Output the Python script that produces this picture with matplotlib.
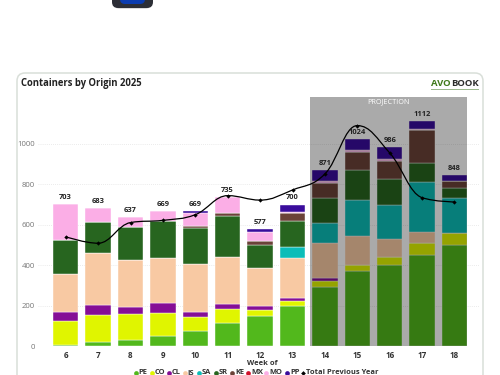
import matplotlib
matplotlib.use("Agg")
import matplotlib.pyplot as plt
from matplotlib.patches import FancyBboxPatch, Rectangle, PathPatch
from matplotlib.path import Path

plt.rcParams['font.family'] = ['Open Sans', 'DejaVu Sans']

weeks = [6, 7, 8, 9, 10, 11, 12, 13, 14, 15, 16, 17, 18]
totals = [703, 683, 637, 669, 669, 735, 577, 700, 871, 1024, 986, 1112, 848]
PE = [7, 23, 33, 49, 77, 115, 150, 199, 295, 370, 400, 449, 499]
CO = [118, 130, 128, 116, 66, 71, 29, 25, 28, 30, 41, 61, 59]
CL = [46, 49, 35, 51, 27, 21, 20, 16, 13, 0, 0, 0, 0]
JS = [188, 257, 230, 220, 238, 234, 186, 198, 173, 145, 91, 56, 0]
SA = [0, 0, 0, 0, 0, 0, 0, 51, 98, 179, 164, 244, 176]
SR = [164, 157, 162, 183, 178, 204, 115, 132, 124, 147, 130, 94, 49]
KE = [0, 0, 0, 0, 8, 12, 20, 36, 77, 89, 91, 164, 32]
MX = [0, 0, 0, 0, 0, 0, 0, 0, 0, 0, 0, 0, 0]
MO = [180, 67, 49, 50, 66, 78, 46, 8, 10, 8, 8, 5, 0]
PP = [0, 0, 0, 0, 9, 0, 11, 35, 53, 56, 61, 39, 33]
prev_year = [541, 509, 611, 622, 650, 744, 722, 772, 851, 1090, 955, 734, 713]

series_names = ["PE", "CO", "CL", "JS", "SA", "SR", "KE", "MX", "MO", "PP"]
series_vals = [PE, CO, CL, JS, SA, SR, KE, MX, MO, PP]
series_colors = ["#52b81c", "#e0f500", "#850e96", "#f8c9a3", "#0bbdb8", "#27651f",
                 "#6b4238", "#d0112b", "#fbaee6", "#3a0c9c"]
legend_x = [135.7, 151.7, 169, 185, 199, 216, 232, 248, 266, 287]
W, H = 500, 375

fig = plt.figure(figsize=(5, 3.75), dpi=100, facecolor="white")

# pixel-space layer for the page furniture
bg = fig.add_axes([0, 0, 1, 1], zorder=0)
bg.set_xlim(0, W)
bg.set_ylim(H, 0)
bg.axis("off")

# icon at the top of the page
bg.add_patch(FancyBboxPatch((114, -14), 37, 23, boxstyle="round,pad=0,rounding_size=6",
                            fc="#c4c4c4", ec="none", alpha=.6))
bg.add_patch(FancyBboxPatch((112, -14), 41, 22, boxstyle="round,pad=0,rounding_size=6",
                            fc="#2c2e36", ec="none"))
bg.add_patch(FancyBboxPatch((120, -14), 25, 18, boxstyle="round,pad=0,rounding_size=5",
                            fc="#0b3cb0", ec="none"))

# card
bg.add_patch(FancyBboxPatch((17, 73), 466, 330, boxstyle="round,pad=0,rounding_size=8",
                            fc="white", ec="#d9dfd9", lw=1.1))
bg.text(21, 83.5, "Containers by Origin 2025", fontsize=6.85, fontweight="bold",
        color="#222222", va="center", ha="left")

# logo
bg.text(431, 83, "AVO", fontsize=6.8, fontweight="bold", color="#3f7a1a", va="center", ha="left")
bg.text(451.5, 83, "BOOK", fontsize=6.8, fontweight="bold", color="#2b2b2b", va="center", ha="left")
bg.plot([431, 478], [89, 89], color="#9ab88a", lw=.7)

# x title and legend
bg.text(262, 363.3, "Week of", fontsize=5.4, fontweight="bold", color="#333333", ha="center", va="center")
for n, c, x in zip(series_names, series_colors, legend_x):
    bg.plot([x], [372.5], "o", color=c, ms=3.4, mew=0)
    bg.text(x + 3, 372.5, n, fontsize=5.4, fontweight="bold", color="#333333", ha="left", va="center")
bg.plot([303], [372.5], "D", color="black", ms=2.4, mew=0)
bg.text(306.5, 372.5, "Total Previous Year", fontsize=5.4, fontweight="bold", color="#333333",
        ha="left", va="center")

# plot area
x0, x1, ytop, y0 = 38, 480, 97, 346.3
ax = fig.add_axes([x0 / W, 1 - y0 / H, (x1 - x0) / W, (y0 - ytop) / H], zorder=1)
ax.patch.set_alpha(0)
unit = 32.4
xpos = list(range(len(weeks)))
ax.set_xlim((x0 - 65.7) / unit, (x1 - 65.7) / unit)
ax.set_ylim(0, (y0 - ytop) / 0.2025)

bottom = [0] * len(weeks)
for vals, c in zip(series_vals, series_colors):
    ax.bar(xpos, vals, width=0.79, bottom=bottom, color=c, edgecolor="white", linewidth=0.3, zorder=2)
    bottom = [b + v for b, v in zip(bottom, vals)]

# projection overlay
ax.add_patch(Rectangle(((310 - 65.7) / unit, 0), (467 - 310) / unit, ax.get_ylim()[1],
                       fc="black", alpha=.335, ec="none", zorder=3))
ax.text((388 - 65.7) / unit, (y0 - 102) / 0.2025, "PROJECTION", color="white", fontsize=5.2,
        ha="center", va="center", zorder=6)


def spline_path(xs, ys, sm=1.5):
    """Smooth Bezier path through the given points; extrema stay flat."""
    ctrl = []
    n = len(xs)
    for i in range(n):
        x, y = xs[i], ys[i]
        if i == 0 or i == n - 1:
            ctrl.append(((x, y), (x, y)))
            continue
        lx = (sm * x + xs[i - 1]) / (sm + 1)
        ly = (sm * y + ys[i - 1]) / (sm + 1)
        rx = (sm * x + xs[i + 1]) / (sm + 1)
        ry = (sm * y + ys[i + 1]) / (sm + 1)
        cor = (ry - ly) * (rx - x) / (rx - lx) + y - ry
        ly += cor
        ry += cor
        if (ly > ys[i - 1] and ly > y) or (ly < ys[i - 1] and ly < y):
            ly = max(ys[i - 1], y) if ly > y else min(ys[i - 1], y)
            ry = 2 * y - ly
        if (ry > ys[i + 1] and ry > y) or (ry < ys[i + 1] and ry < y):
            ry = max(ys[i + 1], y) if ry > y else min(ys[i + 1], y)
            ly = 2 * y - ry
        ctrl.append(((lx, ly), (rx, ry)))
    verts, codes = [(xs[0], ys[0])], [Path.MOVETO]
    for i in range(1, n):
        verts += [ctrl[i - 1][1], ctrl[i][0], (xs[i], ys[i])]
        codes += [Path.CURVE4] * 3
    return Path(verts, codes)


ax.add_patch(PathPatch(spline_path(xpos, prev_year), fc="none", ec="black", lw=0.9, zorder=5))
ax.plot(xpos, prev_year, ls="none", marker="D", color="black", ms=2.2, mew=0, zorder=5)

for x, t_ in zip(xpos, totals):
    ax.annotate(str(t_), (x, t_), xytext=(0, 2.2), textcoords="offset points", ha="center", va="bottom",
                fontsize=5.4, fontweight="bold", color="#222222", zorder=7)

ax.set_xticks(xpos)
ax.set_xticklabels([str(w) for w in weeks], fontsize=5.8, fontweight="bold", color="#333333")
ax.set_yticks([0, 200, 400, 600, 800, 1000])
ax.set_yticklabels(["0", "200", "400", "600", "800", "1000"], fontsize=5.6, color="#777777")
ax.tick_params(axis="both", length=0, pad=2)
ax.tick_params(axis="x", pad=3.5)
ax.grid(axis="y", color="#e4e4e4", lw=0.6, ls=(0, (1, 1.5)), zorder=0)
ax.set_axisbelow(True)
for s in ax.spines.values():
    s.set_visible(False)

fig.savefig("out.png", dpi=100, facecolor="white")
